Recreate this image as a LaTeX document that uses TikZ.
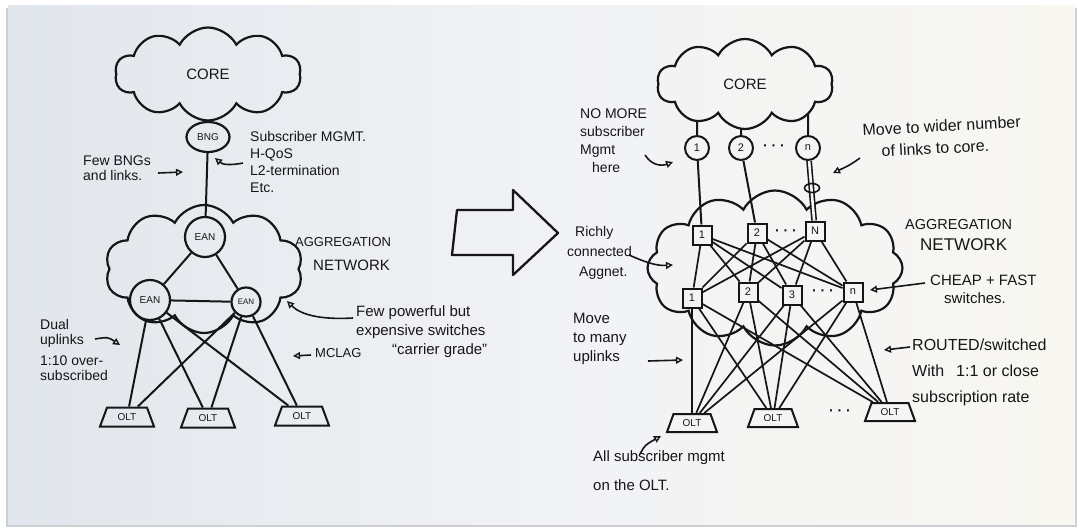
\documentclass[tikz,border=0pt]{standalone}
\usepackage{fontspec}
\setmainfont{Liberation Sans}
\usetikzlibrary{shapes.symbols,shapes.geometric,arrows.meta,intersections}
\definecolor{ink}{HTML}{161618}
\definecolor{paperL}{HTML}{E1E6EC}
\definecolor{paperM}{HTML}{F1F2F4}
\definecolor{paperR}{HTML}{F8F7F2}
\definecolor{shadowc}{HTML}{CDCFD3}
\newcommand{\hsz}[2]{\fontsize{#1}{#2}\selectfont}

\begin{document}
\begin{tikzpicture}[x=1pt,y=-1pt,
  line/.style={draw=ink,line width=2.3pt,line join=round},
  cloudnode/.style={cloud,cloud puffs=10,cloud puff arc=125,cloud ignores aspect,draw=ink,line width=2.2pt,inner sep=0pt,text=ink,font=\hsz{15}{18}},
  eannode/.style={circle,draw=ink,line width=2.2pt,inner sep=0pt,text=ink,font=\hsz{10}{12}},
  numnode/.style={circle,draw=ink,line width=2pt,minimum size=24,inner sep=0pt,text=ink,font=\hsz{11}{12}},
  swnode/.style={rectangle,draw=ink,line width=2pt,minimum size=19,inner sep=0pt,text=ink,font=\hsz{11}{12}},
  oltnode/.style={trapezium,trapezium left angle=65,trapezium right angle=65,trapezium stretches=true,draw=ink,line width=2pt,minimum width=54,minimum height=19,inner sep=0pt,text=ink,font=\hsz{10}{12}},
  link/.style={draw=ink,line width=2pt},
  mesh/.style={draw=ink,line width=1.7pt},
  note/.style={align=left,inner sep=0pt,anchor=north west,text=ink},
  pointer/.style={draw=ink,line width=1.6pt,-{Triangle[open,length=7pt,width=7pt,line width=1.4pt]}},
  dotsnode/.style={inner sep=0pt,text=ink,font=\hsz{14}{14}\bfseries}
]
\useasboundingbox (0,0) rectangle (1082,528);
\fill[white] (0,0) rectangle (1082,528);
% paper
\fill[shadowc] (6,8) rectangle (1077,527);
\shade[left color=paperL,right color=paperR,middle color=paperM] (8,5) rectangle (1075,524);

% ================= LEFT =================
\node[cloudnode,minimum width=186,minimum height=93] (coreL) at (208,74) {CORE};
\node[cloudnode,cloud puffs=10,minimum width=198,minimum height=128] (aggL) at (204,269) {};
\node[ellipse,draw=ink,line width=2.2pt,minimum width=43,minimum height=30,inner sep=0pt,font=\hsz{10}{12},text=ink] (bng) at (208,137) {BNG};
\node[eannode,minimum size=40] (eanT) at (205,237) {EAN};
\node[eannode,minimum size=40] (eanL) at (150,300) {EAN};
\node[eannode,minimum size=29,font=\hsz{8}{10}] (eanR) at (246,302) {EAN};
\node[oltnode] (oltA) at (127,417) {OLT};
\node[oltnode] (oltB) at (208,418) {OLT};
\node[oltnode] (oltC) at (302,416) {OLT};

\draw[link] (bng) -- (coreL.south);
\draw[link] (bng) -- (eanT);
\draw[link] (eanT) -- (eanL);
\draw[link] (eanT) -- (eanR);
\draw[link] (eanL) -- (eanR);
\foreach \o in {oltA,oltB,oltC}{
  \draw[link] (eanL) -- (\o);
  \draw[link] (eanR) -- (\o);
}

% left notes
\node[note,font=\hsz{14}{15}] (nBNG) at (83,156) {Few BNGs\\and links.};
\node[note,font=\hsz{14}{17}] (nSub) at (250,131) {Subscriber MGMT.\\H-QoS\\L2-termination\\Etc.};
\node[note,font=\hsz{13}{15}] (nAggL1) at (295,237) {AGGREGATION};
\node[note,font=\hsz{15}{17}] (nAggL2) at (313,260) {NETWORK};
\node[note,font=\hsz{15}{19}] (nFew) at (356,305) {Few powerful but\\expensive switches\\\hspace*{36pt}“carrier grade”};
\node[note,font=\hsz{13}{15}] (nMC) at (315,348) {MCLAG};
\node[note,font=\hsz{14}{15}] (nDual) at (40,319) {Dual\\uplinks\\[6pt]1:10 over-\\subscribed};

\coordinate (pa1) at (158,173); \coordinate (pa2) at (183,172);
\draw[pointer] (pa1) -- (pa2);
\coordinate (pb1) at (243,163); \coordinate (pb2) at (215,158);
\draw[pointer] (pb1) .. controls (228,166) and (222,164) .. (pb2);
\coordinate (pc1) at (353,318); \coordinate (pc2) at (287,301);
\draw[pointer] (pc1) .. controls (318,320) and (300,314) .. (pc2);
\coordinate (pd1) at (311,355); \coordinate (pd2) at (293,356);
\draw[pointer] (pd1) -- (pd2);
\coordinate (pe1) at (95,339); \coordinate (pe2) at (120,345);
\draw[pointer] (pe1) .. controls (108,337) .. (pe2);

% ================= BIG ARROW =================
\draw[line] (457,210) -- (513,210) -- (513,190) -- (558,233) -- (513,275) -- (513,255) -- (452,255) -- cycle;

% ================= RIGHT =================
\node[cloudnode,name path=coreRp,minimum width=176,minimum height=90] (coreR) at (745,84) {CORE};
\node[cloudnode,cloud puffs=12,minimum width=255,minimum height=155] (aggR) at (775,268) {};

\node[numnode] (c1) at (697,148) {1};
\node[numnode] (c2) at (741,148) {2};
\node[numnode] (cn) at (808,148) {n};
\node[dotsnode] (dc) at (774,148) {· · ·};

\node[swnode] (t1) at (702,235) {1};
\node[swnode] (t2) at (757,233) {2};
\node[swnode] (tN) at (815,231) {N};
\node[dotsnode] (dt) at (786,233) {· · ·};

\node[swnode] (l1) at (692,298) {1};
\node[swnode] (l2) at (748,292) {2};
\node[swnode] (l3) at (792,295) {3};
\node[swnode] (ln) at (853,292) {n};
\node[dotsnode] (dl) at (823,293) {· · ·};

\node[oltnode,minimum width=50,minimum height=18] (o1) at (692,423) {OLT};
\node[oltnode,minimum width=50,minimum height=18] (o2) at (773,418) {OLT};
\node[oltnode,minimum width=50,minimum height=18] (o3) at (890,412) {OLT};
\node[dotsnode] (do) at (840,413) {· · ·};

% links to core
\foreach \c in {c1,c2,cn}{
  \path[name path=v\c] (\c) -- ++(0,-70);
  \draw[link,name intersections={of=coreRp and v\c,sort by=v\c,by=k\c}] (\c) -- (k\c);
}
\draw[link] (c1) -- (t1);
\draw[link] (c2) -- (t2);
\draw[draw=ink,line width=1.6pt,double=paperR,double distance=2.6pt] (cn) -- (tN);
\node[ellipse,draw=ink,line width=1.6pt,minimum width=15,minimum height=9,inner sep=0pt] (lag) at (812,188) {};

\foreach \a in {t1,t2,tN}{
  \foreach \b in {l1,l2,l3,ln}{
    \draw[mesh] (\a) -- (\b);
  }
}
\foreach \a in {l1,l2,l3,ln}{
  \foreach \b in {o1,o2,o3}{
    \draw[mesh] (\a) -- (\b);
  }
}

% right notes
\node[note,font=\hsz{14}{18}] (nNoMore) at (580,109) {NO MORE\\subscriber\\Mgmt\\\hspace*{12pt}here};
\node[note,font=\hsz{16}{22},rotate=3] (nWider) at (862,124) {Move to wider number\\\hspace*{18pt}of links to core.};
\node[note,font=\hsz{14}{20}] (nRich) at (567,226) {\hspace*{8pt}Richly\\connected\\\hspace*{12pt}Aggnet.};
\node[note,font=\hsz{14.5}{17}] (nAggR1) at (905,219) {AGGREGATION};
\node[note,font=\hsz{17}{19}] (nAggR2) at (920,238) {NETWORK};
\node[note,font=\hsz{15}{18}] (nCheap) at (930,275) {CHEAP + FAST\\\hspace*{14pt}switches.};
\node[note,font=\hsz{16}{26}] (nRouted) at (912,339) {ROUTED/switched\\With\hspace{12pt}1:1 or close\\subscription rate};
\node[note,font=\hsz{15}{19}] (nMany) at (573,313) {Move\\to many\\uplinks};
\node[note,font=\hsz{15}{29}] (nAll) at (593,450) {All subscriber mgmt\\on the OLT.};

\coordinate (qa1) at (645,155); \coordinate (qa2) at (673,162);
\draw[pointer] (qa1) .. controls (652,166) and (662,166) .. (qa2);
\coordinate (qb1) at (860,158); \coordinate (qb2) at (833,173);
\draw[pointer] (qb1) .. controls (850,165) .. (qb2);
\coordinate (qc1) at (629,255); \coordinate (qc2) at (673,265);
\draw[pointer] (qc1) .. controls (645,262) and (656,266) .. (qc2);
\coordinate (qd1) at (648,361); \coordinate (qd2) at (683,360);
\draw[pointer] (qd1) -- (qd2);
\coordinate (qe1) at (640,454); \coordinate (qe2) at (661,436);
\draw[pointer] (qe1) .. controls (645,445) .. (qe2);
\coordinate (qf1) at (925,283); \coordinate (qf2) at (870,290);
\draw[pointer] (qf1) -- (qf2);
\coordinate (qg1) at (910,347); \coordinate (qg2) at (884,350);
\draw[pointer] (qg1) -- (qg2);
\end{tikzpicture}
\end{document}
